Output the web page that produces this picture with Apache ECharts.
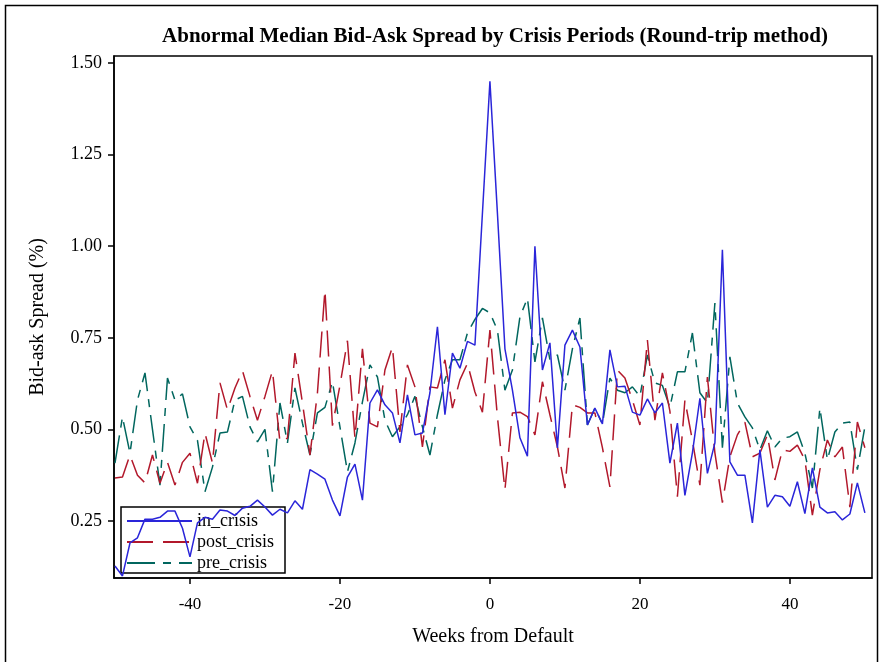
<!DOCTYPE html>
<html>
<head>
<meta charset="utf-8">
<script src="https://cdn.jsdelivr.net/npm/echarts@6/dist/echarts.min.js"></script>
<style>
html,body{margin:0;padding:0;background:#fff;}
#chart{width:880px;height:662px;}
</style>
</head>
<body>
<div id="chart"></div>
<script>
const weeks = [-50,-49,-48,-47,-46,-45,-44,-43,-42,-41,-40,-39,-38,-37,-36,-35,-34,-33,-32,-31,-30,-29,-28,-27,-26,-25,-24,-23,-22,-21,-20,-19,-18,-17,-16,-15,-14,-13,-12,-11,-10,-9,-8,-7,-6,-5,-4,-3,-2,-1,0,1,2,3,4,5,6,7,8,9,10,11,12,13,14,15,16,17,18,19,20,21,22,23,24,25,26,27,28,29,30,31,32,33,34,35,36,37,38,39,40,41,42,43,44,45,46,47,48,49,50];

const inCrisis = [0.127,0.10,0.19,0.204,0.255,0.255,0.26,0.277,0.277,0.23,0.152,0.245,0.26,0.255,0.28,0.277,0.265,0.285,0.29,0.307,0.288,0.266,0.282,0.272,0.305,0.282,0.39,0.378,0.364,0.307,0.264,0.37,0.405,0.307,0.572,0.608,0.567,0.545,0.463,0.594,0.485,0.49,0.60,0.78,0.54,0.708,0.667,0.74,0.73,1.09,1.45,1.09,0.72,0.607,0.477,0.427,1.00,0.662,0.736,0.449,0.73,0.771,0.725,0.512,0.558,0.515,0.717,0.616,0.618,0.547,0.539,0.583,0.545,0.572,0.408,0.517,0.32,0.436,0.585,0.38,0.463,0.99,0.411,0.375,0.375,0.245,0.444,0.288,0.32,0.316,0.29,0.357,0.27,0.395,0.288,0.272,0.275,0.253,0.269,0.354,0.272];

const postCrisis = [0.367,0.37,0.43,0.375,0.354,0.43,0.353,0.41,0.348,0.41,0.435,0.353,0.49,0.408,0.627,0.553,0.613,0.66,0.59,0.525,0.59,0.66,0.466,0.476,0.708,0.572,0.43,0.60,0.88,0.51,0.62,0.742,0.476,0.72,0.517,0.507,0.662,0.725,0.493,0.676,0.616,0.452,0.616,0.613,0.69,0.558,0.635,0.68,0.602,0.547,0.771,0.534,0.335,0.545,0.547,0.535,0.485,0.63,0.54,0.452,0.34,0.567,0.56,0.545,0.545,0.45,0.343,0.662,0.64,0.58,0.512,0.744,0.525,0.654,0.55,0.316,0.58,0.47,0.348,0.643,0.436,0.30,0.425,0.485,0.52,0.425,0.435,0.485,0.362,0.444,0.44,0.457,0.417,0.266,0.39,0.471,0.425,0.452,0.288,0.52,0.45];

const preCrisis = [0.408,0.534,0.435,0.58,0.654,0.50,0.348,0.64,0.58,0.597,0.507,0.47,0.33,0.397,0.49,0.493,0.58,0.59,0.507,0.466,0.50,0.33,0.572,0.463,0.613,0.517,0.43,0.545,0.56,0.63,0.507,0.384,0.463,0.575,0.676,0.643,0.525,0.48,0.507,0.54,0.59,0.507,0.43,0.54,0.635,0.69,0.69,0.763,0.80,0.83,0.818,0.771,0.607,0.662,0.807,0.858,0.684,0.804,0.69,0.703,0.607,0.72,0.804,0.512,0.558,0.515,0.64,0.607,0.60,0.616,0.59,0.703,0.627,0.62,0.56,0.657,0.657,0.763,0.60,0.572,0.845,0.45,0.698,0.572,0.534,0.504,0.444,0.496,0.452,0.476,0.48,0.493,0.435,0.34,0.558,0.417,0.493,0.517,0.52,0.39,0.507];

const xTicks = [-40,-20,0,20,40];
const yTicks = [0.25,0.50,0.75,1.00,1.25,1.50];

const FONT = '"Liberation Serif","Times New Roman",serif';
const pair = arr => weeks.map((w,i)=>[w,arr[i]]);

const chart = echarts.init(document.getElementById('chart'), null, {renderer:'canvas'});
chart.setOption({
  animation:false,
  backgroundColor:'#fff',
  title:{
    text:'Abnormal Median Bid-Ask Spread by Crisis Periods (Round-trip method)',
    left:490, top:21, textAlign:'center',
    textStyle:{fontFamily:FONT, fontWeight:'bold', fontSize:21, color:'#000'}
  },
  graphic:[{type:'rect', shape:{x:5.5,y:5.5,width:872,height:680}, style:{fill:'none',stroke:'#000',lineWidth:1.5}, silent:true}],
  grid:{left:114, right:8, top:56, bottom:84, show:true, borderColor:'#000', borderWidth:1.5, backgroundColor:'transparent'},
  legend:{
    orient:'vertical', left:121, top:507,
    data:['in_crisis','post_crisis','pre_crisis'],
    itemWidth:65, itemHeight:14, itemGap:3,
    padding:[5,11,1,5],
    backgroundColor:'#fff', borderColor:'#000', borderWidth:1.5,
    itemStyle:{opacity:0},
    textStyle:{fontFamily:FONT, fontSize:18, color:'#000'}
  },
  xAxis:{
    type:'value', min:-50.13, max:50.95,
    name:'Weeks from Default', nameLocation:'middle', nameGap:49,
    nameTextStyle:{fontFamily:FONT, fontSize:20, color:'#000'},
    axisLine:{show:true, onZero:false, lineStyle:{color:'#000', width:1.5}},
    axisTick:{show:true, length:6, lineStyle:{color:'#000', width:1.5}, customValues:xTicks},
    axisLabel:{fontFamily:FONT, fontSize:17, color:'#000', margin:18, customValues:xTicks},
    splitLine:{show:false}
  },
  yAxis:{
    type:'value', min:0.0944, max:1.519,
    name:'Bid-ask Spread (%)', nameLocation:'middle', nameGap:66, nameRotate:90,
    nameTextStyle:{fontFamily:FONT, fontSize:20, color:'#000'},
    axisLine:{show:true, onZero:false, lineStyle:{color:'#000', width:1.5}},
    axisTick:{show:true, length:6, lineStyle:{color:'#000', width:1.5}, customValues:yTicks},
    axisLabel:{fontFamily:FONT, fontSize:18, color:'#000', margin:12, customValues:yTicks, formatter:v=>v.toFixed(2)},
    splitLine:{show:false}
  },
  series:[
    {name:'pre_crisis', type:'line', data:pair(preCrisis), symbol:'none', z:2,
     lineStyle:{color:'#01665E', width:1.5, type:[28,8,8,8]}, itemStyle:{color:'#01665E'}},
    {name:'post_crisis', type:'line', data:pair(postCrisis), symbol:'none', z:3,
     lineStyle:{color:'#B2182B', width:1.5, type:[26,10]}, itemStyle:{color:'#B2182B'}},
    {name:'in_crisis', type:'line', data:pair(inCrisis), symbol:'none', z:4,
     lineStyle:{color:'#2A25D9', width:1.5, type:'solid'}, itemStyle:{color:'#2A25D9'}}
  ]
});
</script>
</body>
</html>
